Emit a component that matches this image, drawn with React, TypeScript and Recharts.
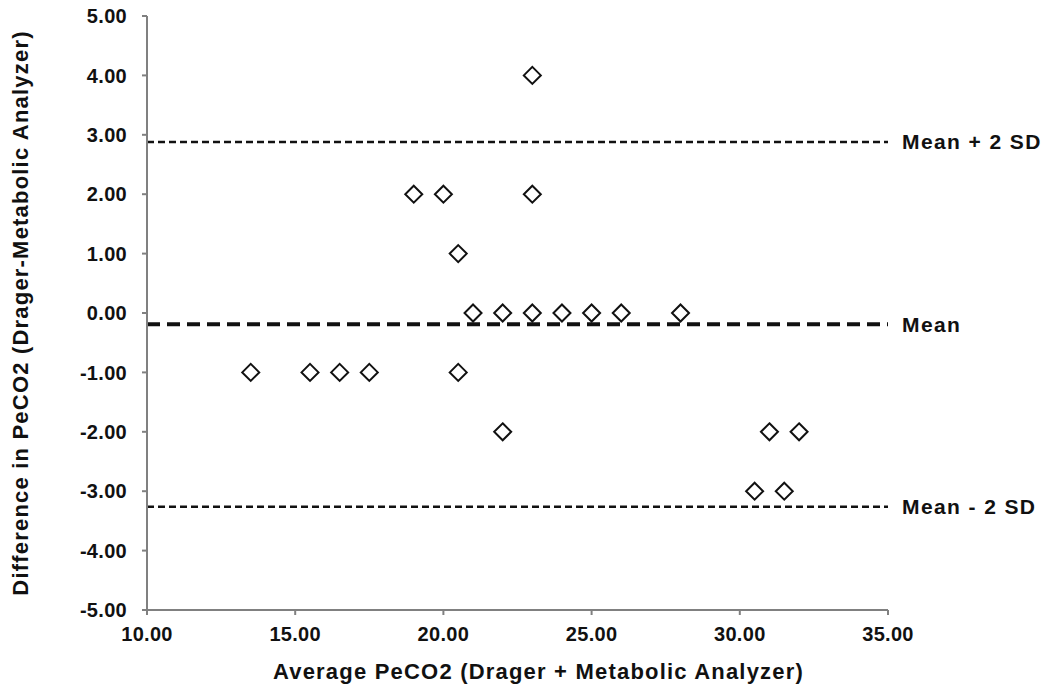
import React from "react";
import {
  ScatterChart,
  Scatter,
  XAxis,
  YAxis,
  ReferenceLine,
  Label,
} from "recharts";

// Bland-Altman points
const avgPeCO2 = [
  13.5, 15.5, 16.5, 17.5, 19, 20, 20.5, 20.5, 21, 22, 22, 23, 23, 23, 24, 25,
  26, 28, 30.5, 31, 31.5, 32,
];
const diffPeCO2 = [
  -1, -1, -1, -1, 2, 2, 1, -1, 0, 0, -2, 4, 2, 0, 0, 0, 0, 0, -3, -2, -3, -2,
];

const xTicks = [10, 15, 20, 25, 30, 35];
const yTicks = [-5, -4, -3, -2, -1, 0, 1, 2, 3, 4, 5];

const meanDiff = -0.19;
const upperLimit = 2.88;
const lowerLimit = -3.26;

const points = avgPeCO2.map((x, i) => ({ x, y: diffPeCO2[i] }));

const font = "'Liberation Sans', Arial, sans-serif";

const Diamond = (props: any) => {
  const { cx, cy } = props;
  const r = 8.5;
  return (
    <polygon
      points={`${cx},${cy - r} ${cx + r},${cy} ${cx},${cy + r} ${cx - r},${cy}`}
      fill="#fff"
      stroke="#111"
      strokeWidth={2}
    />
  );
};

const refLabel = (text: string) => ({
  value: text,
  position: "right" as const,
  offset: 14,
  fill: "#111",
  fontSize: 21,
  fontWeight: 700,
  fontFamily: font,
  style: { letterSpacing: "1.4px" },
});

const tickStyle = {
  fill: "#111",
  fontSize: 20,
  fontWeight: 700,
  fontFamily: font,
  letterSpacing: "0.3px",
};

export default function App() {
  return (
    <div style={{ position: "absolute", left: 0, top: 0, background: "#fff" }}>
      <ScatterChart
        width={1047}
        height={689}
        margin={{ top: 16, right: 159, bottom: 49, left: 0 }}
      >
        <XAxis
          type="number"
          dataKey="x"
          domain={[10, 35]}
          ticks={xTicks}
          tickFormatter={(v: number) => v.toFixed(2)}
          height={30}
          stroke="#808080"
          strokeWidth={2}
          tickSize={5}
          tickMargin={12}
          tick={tickStyle}
        >
          <Label
            value="Average PeCO2 (Drager + Metabolic Analyzer)"
            position="bottom"
            offset={23}
            dx={21}
            fill="#111"
            fontSize={22}
            fontWeight={700}
            fontFamily={font}
            style={{ letterSpacing: "1.2px" }}
          />
        </XAxis>
        <YAxis
          type="number"
          dataKey="y"
          domain={[-5, 5]}
          ticks={yTicks}
          tickFormatter={(v: number) => v.toFixed(2)}
          width={147}
          stroke="#808080"
          strokeWidth={2}
          tickSize={5}
          tickMargin={15}
          tick={tickStyle}
        >
          <Label
            value="Difference in PeCO2 (Drager-Metabolic Analyzer)"
            angle={-90}
            position="insideLeft"
            offset={20}
            fill="#111"
            fontSize={22}
            fontWeight={700}
            fontFamily={font}
            style={{ textAnchor: "middle", letterSpacing: "1.2px" }}
          />
        </YAxis>
        <ReferenceLine
          y={upperLimit}
          stroke="#111"
          strokeWidth={2.5}
          strokeDasharray="7 4"
          label={refLabel("Mean + 2 SD")}
        />
        <ReferenceLine
          y={meanDiff}
          stroke="#111"
          strokeWidth={4}
          strokeDasharray="13 7"
          label={refLabel("Mean")}
        />
        <ReferenceLine
          y={lowerLimit}
          stroke="#111"
          strokeWidth={2.5}
          strokeDasharray="7 4"
          label={refLabel("Mean - 2 SD")}
        />
        <Scatter data={points} shape={<Diamond />} isAnimationActive={false} />
      </ScatterChart>
    </div>
  );
}
